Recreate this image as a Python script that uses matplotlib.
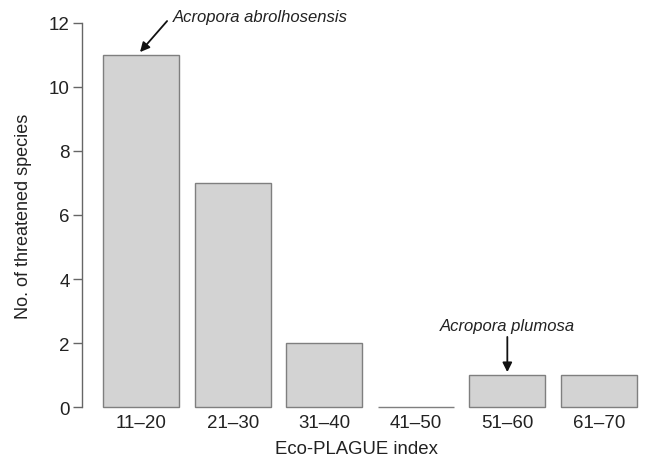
import matplotlib
matplotlib.use("Agg")
import matplotlib.pyplot as plt
import numpy as np

categories = ["11\u201320", "21\u201330", "31\u201340", "41\u201350", "51\u201360", "61\u201370"]
counts = [11, 7, 2, 0, 1, 1]
yticks = [0, 2, 4, 6, 8, 10, 12]

plt.rcParams['font.family'] = ['Liberation Sans', 'DejaVu Sans']
txt = '#222222'

fig = plt.figure(figsize=(6.48, 4.60), dpi=100)
ax = fig.add_axes([0.126, 0.0796, 0.890, 0.9017])

x = 0.7 + 1.2 * np.arange(len(categories))
ax.bar(x, counts, width=1.0, color='#d3d3d3', edgecolor='#7f7f7f', linewidth=1.0)
ax.set_xlim(-0.08, 7.48)
ax.set_ylim(-0.48, 12.48)

for s in ['top', 'right', 'bottom']:
    ax.spines[s].set_visible(False)
ax.spines['left'].set_bounds(0, 12)
ax.spines['left'].set_color('#666666')
ax.spines['left'].set_linewidth(1.0)

ax.set_yticks(yticks)
ax.set_yticklabels([str(v) for v in yticks])
ax.tick_params(axis='y', length=6.5, width=1.0, color='#666666', pad=2,
               labelsize=13.5, labelcolor=txt)
ax.set_xticks(x)
ax.set_xticklabels(categories)
ax.tick_params(axis='x', length=0, pad=-6, labelsize=13.5, labelcolor=txt)

ax.set_xlabel("Eco-PLAGUE index", fontsize=13.4, color=txt, va='center', ha='center')
ax.xaxis.set_label_coords(0.476, -0.064)
ax.set_ylabel("No. of threatened species", fontsize=13.0, color=txt, va='center')
ax.yaxis.set_label_coords(-0.101, 0.5)

# annotations
ax.text(2.26, 12.2, "Acropora abrolhosensis", fontsize=12, style='italic',
        color=txt, ha='center', va='center')
ax.annotate("", xy=(x[0] - 0.015, counts[0] + 0.09), xytext=(1.04, 12.06),
            arrowprops=dict(arrowstyle='-|>', color='#111111', lw=1.3,
                            mutation_scale=14, shrinkA=0, shrinkB=0))
ax.text(x[4], 2.56, "Acropora plumosa", fontsize=12, style='italic',
        color=txt, ha='center', va='center')
ax.annotate("", xy=(x[4], counts[4] + 0.09), xytext=(x[4], 2.19),
            arrowprops=dict(arrowstyle='-|>', color='#111111', lw=1.3,
                            mutation_scale=14, shrinkA=0, shrinkB=0))

fig.savefig("out.png", dpi=100)
